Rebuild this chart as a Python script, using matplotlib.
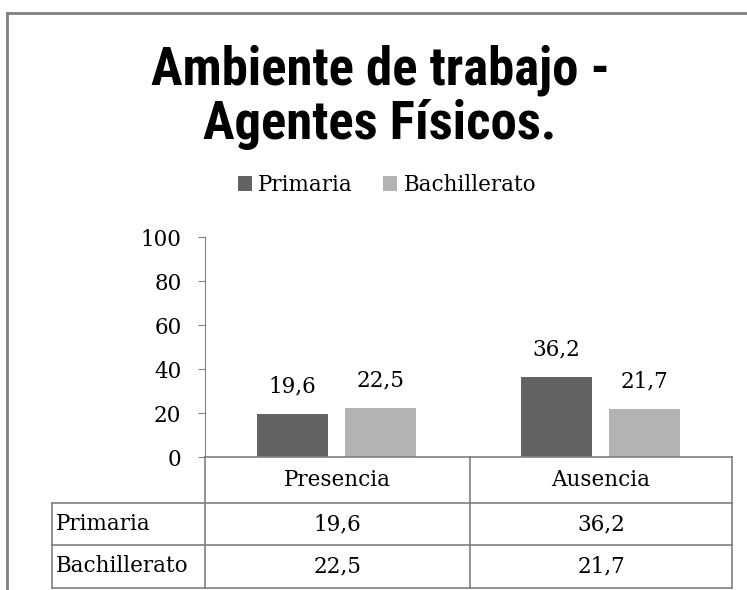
import matplotlib
matplotlib.use("Agg")
import matplotlib.pyplot as plt
from matplotlib.lines import Line2D
from matplotlib import font_manager

categories = ["Presencia", "Ausencia"]
series_names = ["Primaria", "Bachillerato"]
primaria = [19.6, 36.2]
bachillerato = [22.5, 21.7]
yticks = [0, 20, 40, 60, 80, 100]
title_lines = ["Ambiente de trabajo -", "Agentes Físicos."]

W, H = 747, 590
fig = plt.figure(figsize=(W / 100, H / 100), dpi=100)

avail = {f.name for f in font_manager.fontManager.ttflist}
title_font = "Liberation Sans"
for cand in ["Roboto Condensed", "Open Sans Condensed", "Liberation Sans Narrow", "DejaVu Sans Condensed"]:
    if cand in avail:
        title_font = cand
        break
serif = ["DejaVu Serif"]
FS = 15.5

def fx(px):
    return px / W

def fy(py):
    return 1 - py / H

x0, x1, y0, y1 = 205, 732, 457, 237
ax = fig.add_axes([fx(x0), fy(y0), fx(x1) - fx(x0), fy(y1) - fy(y0)])
ax.set_xlim(-0.5, 1.5)
ax.set_ylim(0, 100)

colors = ["#636363", "#b3b3b3"]
offsets = [-0.167, 0.167]
width = 0.27
fmt = lambda v: f"{v:.1f}".replace(".", ",")
for vals, off, col, name in zip([primaria, bachillerato], offsets, colors, series_names):
    xs = [i + off for i in range(len(categories))]
    bars = ax.bar(xs, vals, width=width, color=col, label=name)
    for b, v in zip(bars, vals):
        ax.text(b.get_x() + b.get_width() / 2, v + 7.5, fmt(v), ha="center", va="bottom",
                fontsize=FS, family=serif)

for s in ["top", "right", "bottom"]:
    ax.spines[s].set_visible(False)
ax.spines["left"].set_color("#808080")
ax.set_yticks(yticks)
ax.set_yticklabels([str(t) for t in yticks], fontsize=FS, family=serif)
ax.tick_params(axis="y", length=5, color="#808080", pad=12)
ax.set_xticks([])

# title
for line, yy in zip(title_lines, [70, 125]):
    fig.text(fx(380), fy(yy), line, ha="center", va="center", fontsize=38,
             fontweight="bold", family=title_font)

# legend
leg = fig.legend(loc="center", bbox_to_anchor=(fx(387), fy(185)), ncol=2, frameon=False,
                 prop={"family": serif, "size": FS}, handlelength=0.65, handleheight=0.65,
                 handletextpad=0.3, columnspacing=1.4)

# data table
gc = "#808080"
lw = 1.2
def hline(y, xa, xb):
    fig.add_artist(Line2D([fx(xa), fx(xb)], [fy(y), fy(y)], color=gc, lw=lw))
def vline(x, ya, yb):
    fig.add_artist(Line2D([fx(x), fx(x)], [fy(ya), fy(yb)], color=gc, lw=lw))

row_y = [457, 503, 545, 588]
col_x = [52, 205, 470, 732]
hline(457, 205, 732)
for y in row_y[1:]:
    hline(y, 52, 732)
vline(205, 457, 588)
vline(470, 457, 588)
vline(732, 457, 588)
vline(52, 503, 588)

cx = [(col_x[1] + col_x[2]) / 2, (col_x[2] + col_x[3]) / 2]
for c, x in zip(categories, cx):
    fig.text(fx(x), fy((row_y[0] + row_y[1]) / 2), c, ha="center", va="center",
             fontsize=FS, family=serif)
for r, (name, vals) in enumerate(zip(series_names, [primaria, bachillerato])):
    yc = (row_y[r + 1] + row_y[r + 2]) / 2
    fig.text(fx(56), fy(yc), name, ha="left", va="center", fontsize=FS, family=serif)
    for v, x in zip(vals, cx):
        fig.text(fx(x), fy(yc), fmt(v), ha="center", va="center", fontsize=FS, family=serif)

# outer frame
fig.add_artist(Line2D([fx(7), fx(7)], [fy(13), fy(590)], color="#808080", lw=2))
fig.add_artist(Line2D([fx(7), fx(747)], [fy(13), fy(13)], color="#808080", lw=2))

fig.savefig("out.png", dpi=100)
